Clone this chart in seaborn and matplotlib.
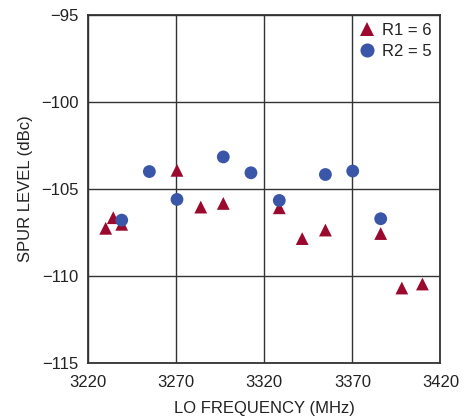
import numpy as np
import pandas as pd
import matplotlib
matplotlib.use("Agg")
import matplotlib.pyplot as plt
import seaborn as sns

# ==================== 数据 ====================
r1_freq = [3229.9, 3234.2, 3239.0, 3270.4, 3283.9, 3296.7, 3328.5, 3341.5,
           3354.7, 3386.1, 3398.1, 3409.8]
r1_spur = [-107.27, -106.66, -107.04, -103.94, -106.05, -105.84, -106.09,
           -107.86, -107.37, -107.57, -110.70, -110.47]
r2_freq = [3239.0, 3254.7, 3270.4, 3296.7, 3312.4, 3328.5, 3354.7, 3370.2, 3386.1]
r2_spur = [-106.80, -104.01, -105.61, -103.17, -104.08, -105.67, -104.18,
           -103.98, -106.72]
x_ticks = [3220, 3270, 3320, 3370, 3420]
y_ticks = [-115, -110, -105, -100, -95]

df = pd.concat([
    pd.DataFrame({"freq": r1_freq, "spur": r1_spur, "series": "R1 = 6"}),
    pd.DataFrame({"freq": r2_freq, "spur": r2_spur, "series": "R2 = 5"}),
], ignore_index=True)

# ==================== 样式 ====================
sns.set_style("white")
plt.rcParams['font.family'] = ['Liberation Sans Narrow', 'Liberation Sans', 'DejaVu Sans']
plt.rcParams['axes.unicode_minus'] = True

fig = plt.figure(figsize=(4.67, 4.2), dpi=100)
ax = fig.add_axes([0.189, 0.136, 0.754, 0.829])

ax.grid(True, color='#333333', linewidth=1.0)
ax.set_axisbelow(True)

sns.scatterplot(data=df, x="freq", y="spur", hue="series", style="series",
                markers={"R1 = 6": "^", "R2 = 5": "o"},
                palette={"R1 = 6": "#9B0A2E", "R2 = 5": "#3A56A8"},
                s=85, edgecolor='none', linewidth=0, ax=ax, zorder=3)

ax.set_xlim(3220, 3420)
ax.set_ylim(-115, -95)
ax.set_xticks(x_ticks)
ax.set_yticks(y_ticks)
ax.set_yticklabels([f"\u2212{abs(v)}" for v in y_ticks])
ax.tick_params(axis='x', length=0, pad=9, labelsize=12, colors='#222222')
ax.tick_params(axis='y', length=0, pad=7, labelsize=12, colors='#222222')

for s in ax.spines.values():
    s.set_color('#333333')
    s.set_linewidth(1.3)

ax.set_xlabel("LO FREQUENCY (MHz)", fontsize=12, color='#222222', labelpad=8)
ax.set_ylabel("SPUR LEVEL (dBc)", fontsize=12, color='#222222', labelpad=6)

leg = ax.legend(loc='upper right', frameon=False, fontsize=12,
                handlelength=1.2, handletextpad=0.3, borderaxespad=0.1,
                labelspacing=0.35, markerscale=1.1)
for t in leg.get_texts():
    t.set_color('#222222')

plt.savefig('out.png', dpi=100)
